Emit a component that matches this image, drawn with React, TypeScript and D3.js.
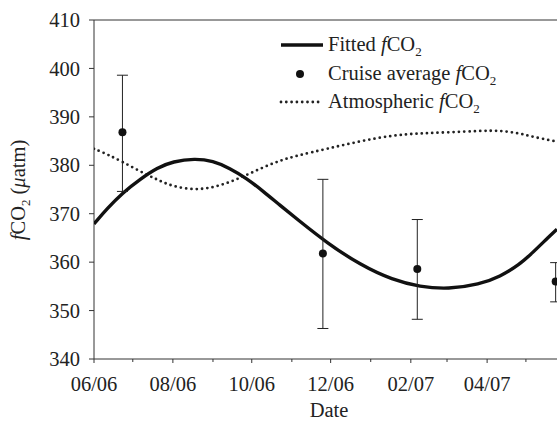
import React, { useEffect, useRef } from "react";
import * as d3 from "d3";

// dates, shared by both curves
const curveDates = [
  "2006-06-01", "2006-06-11", "2006-06-23", "2006-07-07", "2006-07-20", "2006-08-01",
  "2006-08-18", "2006-09-01", "2006-09-14", "2006-09-27", "2006-10-10", "2006-10-23",
  "2006-11-05", "2006-11-28", "2006-12-24", "2007-01-18", "2007-02-08", "2007-03-02",
  "2007-03-26", "2007-04-11", "2007-04-26", "2007-05-06", "2007-05-19", "2007-05-25",
];
const fittedValues = [
  367.9, 371.0, 374.3, 377.2, 379.5, 380.8,
  381.4, 380.9, 379.4, 377.3, 374.6, 371.7,
  368.9, 364.0, 359.4, 356.3, 354.9, 354.4,
  355.4, 357.0, 359.5, 361.9, 365.3, 366.8,
];
const atmosphericValues = [
  383.4, 382.3, 380.7, 378.7, 377.0, 375.6,
  374.9, 375.4, 376.5, 378.0, 379.6, 381.0,
  382.0, 383.4, 385.0, 386.2, 386.6, 386.8,
  387.1, 387.2, 386.6, 385.9, 385.2, 384.9,
];

const cruiseDates = ["2006-06-23", "2006-11-25", "2007-02-06", "2007-05-24"];
const cruiseMeans = [386.8, 361.8, 358.6, 356.0];
const cruiseUpper = [398.6, 377.1, 368.8, 359.9];
const cruiseLower = [374.6, 346.3, 348.2, 351.8];

const yTicks = [340, 350, 360, 370, 380, 390, 400, 410];
const xDomain = ["2006-06-01", "2007-06-01"];

const parse = d3.timeParse("%Y-%m-%d");
const FONT = "Liberation Serif, Tinos, Times New Roman, DejaVu Serif, serif";
const FS = 20.5;

function App() {
  const ref = useRef<SVGSVGElement>(null);

  useEffect(() => {
    var svg = d3.select(ref.current);
    svg.selectAll("*").remove();

    var left = 94, right = 566, top = 20, bottom = 359;
    var x = d3.scaleTime().domain(xDomain.map((d) => parse(d) as Date)).range([left, right]);
    var y = d3.scaleLinear().domain([340, 410]).range([bottom, top]);

    var g = svg.append("g");

    // frame: top line + axes
    g.append("line").attr("x1", left).attr("x2", 557).attr("y1", top).attr("y2", top)
      .attr("stroke", "#333").attr("stroke-width", 1);
    g.append("line").attr("x1", left).attr("x2", left).attr("y1", top).attr("y2", bottom)
      .attr("stroke", "#333").attr("stroke-width", 1);
    g.append("line").attr("x1", left).attr("x2", 557).attr("y1", bottom).attr("y2", bottom)
      .attr("stroke", "#333").attr("stroke-width", 1);

    // y ticks
    yTicks.forEach((t) => {
      g.append("line").attr("x1", left - 5).attr("x2", left).attr("y1", y(t)).attr("y2", y(t))
        .attr("stroke", "#333");
      g.append("text").attr("x", 80).attr("y", y(t)).attr("dy", "0.35em")
        .attr("text-anchor", "end").attr("font-family", FONT).attr("font-size", FS)
        .attr("fill", "#222").text(t);
    });

    // x ticks: monthly minor, bimonthly labelled
    var months = d3.timeMonth.range(x.domain()[0], x.domain()[1]);
    var fmt = d3.timeFormat("%m/%y");
    months.forEach((m, i) => {
      var major = i % 2 === 0;
      g.append("line").attr("x1", x(m)).attr("x2", x(m)).attr("y1", bottom)
        .attr("y2", bottom + (major ? 4 : 3)).attr("stroke", "#333");
      if (major) {
        g.append("text").attr("x", x(m)).attr("y", 391).attr("text-anchor", "middle")
          .attr("font-family", FONT).attr("font-size", FS).attr("fill", "#222").text(fmt(m));
      }
    });

    g.append("text").attr("x", 329).attr("y", 417).attr("text-anchor", "middle")
      .attr("font-family", FONT).attr("font-size", FS).attr("fill", "#222").text("Date");

    // y label
    var yl = g.append("text").attr("transform", "translate(25,190) rotate(-90)")
      .attr("text-anchor", "middle").attr("font-family", FONT).attr("font-size", FS)
      .attr("fill", "#222");
    yl.append("tspan").attr("font-style", "italic").text("f");
    yl.append("tspan").text("CO");
    yl.append("tspan").attr("font-size", 13).attr("dy", 5).text("2");
    yl.append("tspan").attr("dy", -5).text(" (");
    yl.append("tspan").attr("font-style", "italic").text("\u03bc");
    yl.append("tspan").text("atm)");

    var clip = svg.append("clipPath").attr("id", "plotclip");
    clip.append("rect").attr("x", left).attr("y", top).attr("width", right - left).attr("height", bottom - top);

    var line = d3.line<number>()
      .x((d, i) => x(parse(curveDates[i]) as Date))
      .y((d) => y(d))
      .curve(d3.curveBasis);

    var plot = g.append("g").attr("clip-path", "url(#plotclip)");

    plot.append("path").attr("d", line(atmosphericValues)).attr("fill", "none")
      .attr("stroke", "#222").attr("stroke-width", 2.8).attr("stroke-linecap", "round")
      .attr("stroke-dasharray", "0 5.3");

    plot.append("path").attr("d", line(fittedValues)).attr("fill", "none")
      .attr("stroke", "#111").attr("stroke-width", 3.4);

    // cruise averages with error bars
    cruiseDates.forEach((d, i) => {
      var cx = x(parse(d) as Date);
      g.append("line").attr("x1", cx).attr("x2", cx).attr("y1", y(cruiseUpper[i])).attr("y2", y(cruiseLower[i]))
        .attr("stroke", "#222").attr("stroke-width", 1);
      [cruiseUpper[i], cruiseLower[i]].forEach((v) => {
        g.append("line").attr("x1", cx - 5.5).attr("x2", cx + 5.5).attr("y1", y(v)).attr("y2", y(v))
          .attr("stroke", "#222").attr("stroke-width", 1);
      });
      g.append("circle").attr("cx", cx).attr("cy", y(cruiseMeans[i])).attr("r", 4).attr("fill", "#111");
    });

    // legend
    var lg = g.append("g");
    var rows = [
      { y: 45, label: "Fitted " },
      { y: 74, label: "Cruise average " },
      { y: 102, label: "Atmospheric " },
    ];
    lg.append("line").attr("x1", 281).attr("x2", 323).attr("y1", rows[0].y).attr("y2", rows[0].y)
      .attr("stroke", "#111").attr("stroke-width", 3.4);
    lg.append("circle").attr("cx", 300).attr("cy", rows[1].y).attr("r", 4).attr("fill", "#111");
    lg.append("line").attr("x1", 281).attr("x2", 322).attr("y1", rows[2].y).attr("y2", rows[2].y)
      .attr("stroke", "#222").attr("stroke-width", 2.8).attr("stroke-linecap", "round")
      .attr("stroke-dasharray", "0 5.3");
    rows.forEach((r) => {
      var t = lg.append("text").attr("x", 328).attr("y", r.y).attr("dy", "0.3em")
        .attr("font-family", FONT).attr("font-size", FS).attr("fill", "#222");
      t.append("tspan").text(r.label);
      t.append("tspan").attr("font-style", "italic").text("f");
      t.append("tspan").text("CO");
      t.append("tspan").attr("font-size", 13).attr("dy", 5).text("2");
    });
  }, []);

  return (
    <svg ref={ref} width={557} height={422}
      style={{ position: "absolute", left: 0, top: 0, background: "#fff" }} />
  );
}

export default App;
